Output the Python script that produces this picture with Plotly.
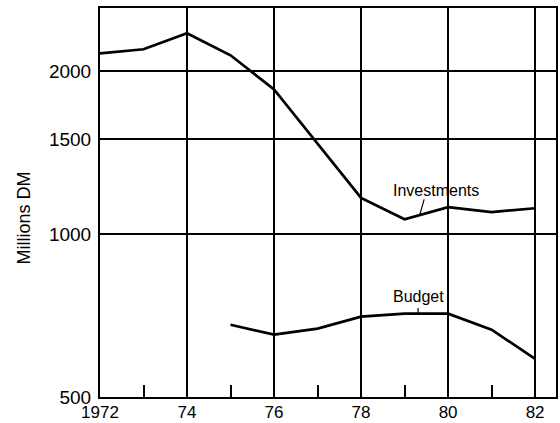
import numpy as np
import plotly.graph_objects as go

years_inv = [1972, 1973, 1974, 1975, 1976, 1977, 1978, 1979, 1980, 1981, 1982]
investments = [2160, 2198, 2353, 2142, 1852, 1470, 1167, 1066, 1122, 1099, 1117]

years_bud = [1975, 1976, 1977, 1978, 1979, 1980, 1981, 1982]
budget = [680, 652, 669, 704, 713, 713, 666, 588]

x_tickvals = [1972, 1974, 1976, 1978, 1980, 1982]
x_ticktext = ["1972", "74", "76", "78", "80", "82"]
y_tickvals = [500, 1000, 1500, 2000]
y_ticktext = ["500", "1000", "1500", "2000"]

FONT = "Liberation Sans, Arial, sans-serif"

fig = go.Figure()
fig.add_trace(go.Scatter(x=years_inv, y=investments, mode="lines",
                         line=dict(color="black", width=2.7), hoverinfo="skip",
                         showlegend=False))
fig.add_trace(go.Scatter(x=years_bud, y=budget, mode="lines",
                         line=dict(color="black", width=2.7), hoverinfo="skip",
                         showlegend=False))
# leader lines for labels
fig.add_trace(go.Scatter(x=[1979.45, 1979.35], y=[1160, 1087], mode="lines",
                         line=dict(color="black", width=1.2), hoverinfo="skip",
                         showlegend=False))
fig.add_trace(go.Scatter(x=[1979.31, 1979.31], y=[730, 713], mode="lines",
                         line=dict(color="black", width=1.2), hoverinfo="skip",
                         showlegend=False))

fig.add_annotation(x=1979.72, y=np.log10(1206), text="Investments", showarrow=False,
                   font=dict(family=FONT, size=16, color="black"),
                   xanchor="center", yanchor="middle")
fig.add_annotation(x=1979.31, y=np.log10(768), text="Budget", showarrow=False,
                   font=dict(family=FONT, size=16, color="black"),
                   xanchor="center", yanchor="middle")
fig.add_annotation(x=-0.1656, y=0.46, xref="paper", yref="paper", text="Millions DM",
                   showarrow=False, textangle=-90,
                   font=dict(family=FONT, size=18, color="black"),
                   xanchor="center", yanchor="middle")

fig.update_xaxes(range=[1972, 1982.48], tickvals=x_tickvals, ticktext=x_ticktext,
                 showgrid=True, gridcolor="black", gridwidth=1.5,
                 showline=True, linecolor="black", linewidth=2, mirror=True,
                 ticks="", ticklabelstandoff=-1, zeroline=False, automargin=False,
                 tickfont=dict(family=FONT, size=17, color="black"),
                 minor=dict(ticks="inside", ticklen=12, tickwidth=1.5, tickcolor="black",
                            tick0=1973, dtick=2, showgrid=False))
fig.update_yaxes(type="log", range=[np.log10(500), np.log10(2620)],
                 tickvals=y_tickvals, ticktext=y_ticktext,
                 showgrid=True, gridcolor="black", gridwidth=1.5,
                 showline=True, linecolor="black", linewidth=2, mirror=True,
                 ticks="", ticklabelstandoff=3, zeroline=False, automargin=False,
                 tickfont=dict(family=FONT, size=19, color="black"))

fig.update_layout(width=560, height=423, margin=dict(l=100, r=4, t=8, b=26),
                  plot_bgcolor="white", paper_bgcolor="white")

post = ("var d=document.getElementById('{plot_id}');"
        "d.style.position='fixed';d.style.top='0px';d.style.left='0px';"
        "document.body.style.margin='0';"
        "document.documentElement.style.overflow='hidden';")
fig.write_html("out.html", config={"displayModeBar": False}, post_script=post)
